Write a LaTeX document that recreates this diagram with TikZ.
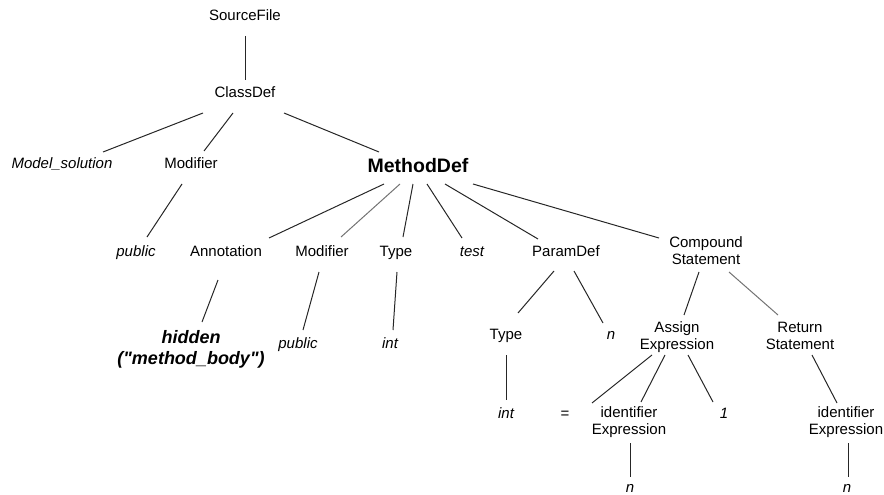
\documentclass[tikz,border=0pt]{standalone}
\usepackage{fontspec}
\setmainfont{Liberation Sans}
\begin{document}
\begin{tikzpicture}[x=1pt, y=-1pt,
  every node/.style={inner sep=0pt, outer sep=0pt, text=black},
  lbl/.style={anchor=base, font=\fontsize{15}{17}\selectfont},
  ilbl/.style={lbl, font=\fontsize{15}{17}\selectfont\itshape},
  twoline/.style={anchor=north, align=center, font=\fontsize{15}{17}\selectfont},
  boldlbl/.style={anchor=base, font=\fontsize{19.5}{22}\selectfont\bfseries},
  link/.style={draw=black!85, line width=1pt},
  faint/.style={draw=black!55, line width=1pt}]
\useasboundingbox (0,0) rectangle (884,495);

% ---- nodes ----
\node[lbl]     (sf)   at (245,20.5) {SourceFile};
\node[lbl]     (cd)   at (245,97)   {ClassDef};
\node[ilbl]    (ms)   at (62,168)   {Model\_solution};
\node[lbl]     (mod1) at (191,168)  {Modifier};
\node[boldlbl] (md)   at (418,172)  {MethodDef};

\node[ilbl]    (pub1) at (136,256)  {public};
\node[lbl]     (ann)  at (226,256)  {Annotation};
\node[lbl]     (mod2) at (322,256)  {Modifier};
\node[lbl]     (ty1)  at (396,256)  {Type};
\node[ilbl]    (tst)  at (472,256)  {test};
\node[lbl]     (pd)   at (566,256)  {ParamDef};
\node[twoline] (cs)   at (706,237)  {Compound\\Statement};

\node[anchor=north, align=center,
      font=\fontsize{18}{21.5}\selectfont\bfseries\itshape]
               (hid)  at (191,330)  {hidden\\(\textquotedbl method\_body\textquotedbl)};
\node[ilbl]    (pub2) at (298,348)  {public};
\node[ilbl]    (int1) at (390,348)  {int};
\node[lbl]     (ty2)  at (506,339)  {Type};
\node[ilbl]    (n1)   at (611,339)  {n};
\node[twoline] (ae)   at (677,322)  {Assign\\Expression};
\node[twoline] (rs)   at (800,322)  {Return\\Statement};

\node[ilbl]    (int2) at (506,418)  {int};
\node[lbl]     (eq)   at (565,418)  {=};
\node[twoline] (ie1)  at (629,407)  {identifier\\Expression};
\node[ilbl]    (one)  at (724,418)  {1};
\node[twoline] (ie2)  at (846,407)  {identifier\\Expression};

\node[ilbl]    (n2)   at (630,492)  {n};
\node[ilbl]    (n3)   at (847,492)  {n};

% ---- tree edges ----
\draw[link] ([shift={(0.7,15.5)}]sf.base) -- ([shift={(0.7,-17)}]cd.base);
\draw[link] ([shift={(-42,16)}]cd.base) -- ([shift={(41,-16)}]ms.base);
\draw[link] ([shift={(-12,16)}]cd.base) -- ([shift={(13,-17)}]mod1.base);
\draw[link] ([shift={(39,16)}]cd.base) -- ([shift={(-39,-20)}]md.base);
\draw[link] ([shift={(-9,16)}]mod1.base) -- ([shift={(11,-19)}]pub1.base);

\draw[link]  ([shift={(-34,12)}]md.base) -- ([shift={(43,-18)}]ann.base);
\draw[faint] ([shift={(-18,12)}]md.base) -- ([shift={(19,-19)}]mod2.base);
\draw[link]  ([shift={(-5,12)}]md.base) -- ([shift={(7,-19)}]ty1.base);
\draw[link]  ([shift={(9,12)}]md.base) -- ([shift={(-10,-18)}]tst.base);
\draw[link]  ([shift={(27,12)}]md.base) -- ([shift={(-28,-17)}]pd.base);
\draw[link]  ([shift={(55,12)}]md.base) -- ([shift={(-47,1)}]cs.north);

\draw[link] ([shift={(-8,24)}]ann.base) -- ([shift={(11,-8)}]hid.north);
\draw[link] ([shift={(-3,16)}]mod2.base) -- ([shift={(5,-18)}]pub2.base);
\draw[link] ([shift={(1,16)}]ty1.base) -- ([shift={(3,-18)}]int1.base);
\draw[link] ([shift={(-12,15)}]pd.base) -- ([shift={(12,-26)}]ty2.base);
\draw[link] ([shift={(8,15)}]pd.base) -- ([shift={(-8,-16)}]n1.base);
\draw[link]  ([shift={(-7,35)}]cs.north) -- ([shift={(7,-7)}]ae.north);
\draw[faint] ([shift={(23,35)}]cs.north) -- ([shift={(-22,-7)}]rs.north);

\draw[link] ([shift={(0,16)}]ty2.base) -- ([shift={(0,-18)}]int2.base);
\draw[link] ([shift={(-25,33)}]ae.north) -- ([shift={(27,-15)}]eq.base);
\draw[link] ([shift={(-12,33)}]ae.north) -- ([shift={(12,-5)}]ie1.north);
\draw[link] ([shift={(11,33)}]ae.north) -- ([shift={(-11,-16)}]one.base);
\draw[link] ([shift={(12,33)}]rs.north) -- ([shift={(-9,-4)}]ie2.north);
\draw[link] ([shift={(1,36)}]ie1.north) -- ([shift={(0,-15)}]n2.base);
\draw[link] ([shift={(2,36)}]ie2.north) -- ([shift={(1,-15)}]n3.base);
\end{tikzpicture}
\end{document}
